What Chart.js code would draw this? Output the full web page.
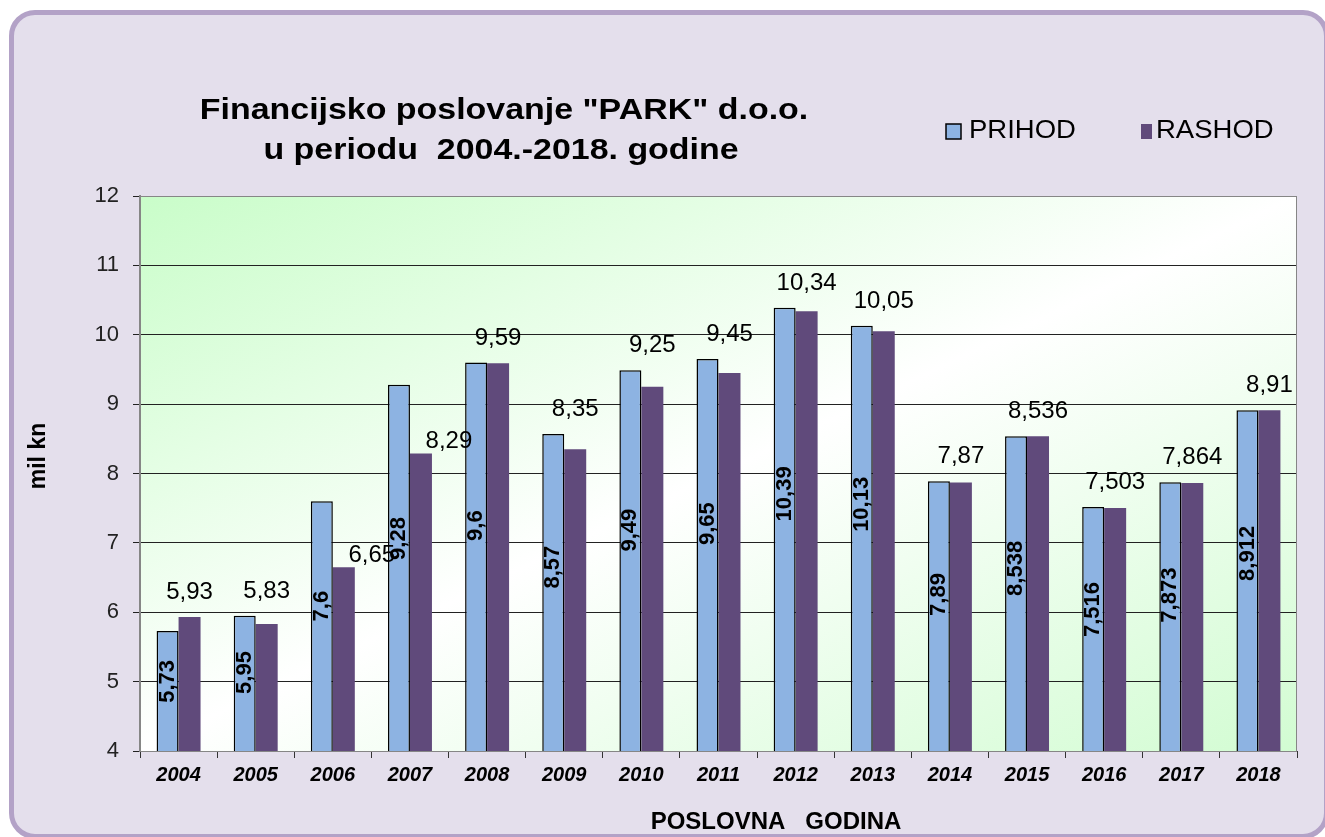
<!DOCTYPE html>
<html>
<head>
<meta charset="utf-8">
<script src="https://cdn.jsdelivr.net/npm/chart.js@4"></script>
<style>
  body { margin: 0; background: #fff; }
  #frame {
    position: absolute; left: 9px; top: 10px; width: 1320px; height: 829px;
    box-sizing: border-box; border: 5px solid #b3a2c7; border-radius: 26px; background: #e4dfec;
  }
  #chart { position: absolute; left: 0; top: 0; }
</style>
</head>
<body>
<div id="frame"></div>
<canvas id="chart" width="1325" height="837"></canvas>
<script>
const FONT = "'Liberation Sans', Arial, sans-serif";
Chart.defaults.font.family = FONT;

const years = ['2004', '2005', '2006', '2007', '2008', '2009', '2010', '2011', '2012', '2013', '2014', '2015', '2016', '2017', '2018'];
const prihod = [5.73, 5.95, 7.6, 9.28, 9.6, 8.57, 9.49, 9.65, 10.39, 10.13, 7.89, 8.538, 7.516, 7.873, 8.912];
const rashod = [5.93, 5.83, 6.65, 8.29, 9.59, 8.35, 9.25, 9.45, 10.34, 10.05, 7.87, 8.536, 7.503, 7.864, 8.91];
const yTicks = [4, 5, 6, 7, 8, 9, 10, 11, 12];
const titleLines = ['Financijsko poslovanje "PARK" d.o.o.', 'u periodu  2004.-2018. godine'];
const xTitle = 'POSLOVNA   GODINA';
const yTitle = 'mil kn';

const fmt = v => String(v).replace('.', ',');

// text drawn a bit wider than the font, like the Excel original
function wideText(ctx, text, x, y, sx, align) {
  ctx.save();
  ctx.translate(x, y);
  ctx.scale(sx, 1);
  ctx.textAlign = align || 'center';
  ctx.fillText(text, 0, 0);
  ctx.restore();
}

const decor = {
  id: 'decor',
  beforeDraw(chart) {
    const { ctx, chartArea: a } = chart;
    ctx.save();
    ctx.translate(a.left, a.top);
    ctx.scale(a.width, a.height);
    const g = ctx.createLinearGradient(0, 0, 1, 1);
    g.addColorStop(0, '#c9fdc9');
    g.addColorStop(0.5, '#ffffff');
    g.addColorStop(1, '#d2fcd2');
    ctx.fillStyle = g;
    ctx.fillRect(0, 0, 1, 1);
    ctx.restore();
  },
  afterDatasetsDraw(chart) {
    const { ctx, chartArea: a } = chart;
    const pm = chart.getDatasetMeta(0).data;
    const rm = chart.getDatasetMeta(1).data;
    ctx.save();
    ctx.fillStyle = '#000';
    ctx.font = 'bold 22px ' + FONT;
    ctx.textAlign = 'center';
    ctx.textBaseline = 'middle';
    pm.forEach((bar, i) => {
      const base = Math.min(bar.base, a.bottom);
      const cy = bar.y + 0.42 * (base - bar.y);
      ctx.save();
      ctx.translate(bar.x, cy);
      ctx.rotate(-Math.PI / 2);
      ctx.fillText(fmt(prihod[i]), 0, 0);
      ctx.restore();
    });
    ctx.font = '24px ' + FONT;
    ctx.textBaseline = 'alphabetic';
    rm.forEach((bar, i) => {
      let x = bar.x, b;
      if (prihod[i] - rashod[i] > 0.5) {
        x += 28;
        b = bar.y - 5;
      } else {
        b = Math.min(bar.y, pm[i].y) - 18;
      }
      ctx.fillText(fmt(rashod[i]), x, b);
    });
    ctx.restore();
  },
  afterDraw(chart) {
    const { ctx, chartArea: a } = chart;
    ctx.save();
    ctx.strokeStyle = '#868686';
    ctx.lineWidth = 1;
    ctx.strokeRect(a.left + 0.5, a.top + 0.5, a.width - 1, a.height);

    ctx.fillStyle = '#000';
    ctx.textBaseline = 'middle';
    ctx.font = 'bold 29px ' + FONT;
    wideText(ctx, titleLines[0], 504, 111, 1.17);
    wideText(ctx, titleLines[1], 501, 151, 1.17);

    ctx.font = 'bold 24px ' + FONT;
    wideText(ctx, xTitle, 776, 822, 1.0);

    ctx.save();
    ctx.translate(39, 456);
    ctx.rotate(-Math.PI / 2);
    ctx.font = 'bold 23px ' + FONT;
    ctx.textAlign = 'center';
    ctx.fillText(yTitle, 0, 0);
    ctx.restore();

    ctx.font = '25px ' + FONT;
    const ly = 131;
    ctx.fillStyle = '#8db3e2';
    ctx.fillRect(946, ly - 7, 15, 15);
    ctx.strokeStyle = '#000';
    ctx.lineWidth = 1.5;
    ctx.strokeRect(946, ly - 7, 15, 15);
    ctx.fillStyle = '#000';
    wideText(ctx, chart.data.datasets[0].label, 969, ly, 1.1, 'left');
    ctx.fillStyle = '#604a7b';
    ctx.fillRect(1141, ly - 7, 11, 15);
    ctx.fillStyle = '#000';
    wideText(ctx, chart.data.datasets[1].label, 1156, ly, 1.1, 'left');
    ctx.restore();
  }
};

new Chart(document.getElementById('chart'), {
  type: 'bar',
  data: {
    labels: years,
    datasets: [{
      label: 'PRIHOD',
      data: prihod,
      backgroundColor: '#8db3e2',
      borderColor: '#000',
      borderWidth: 1.5,
      categoryPercentage: 0.57,
      barPercentage: 1
    }, {
      label: 'RASHOD',
      data: rashod,
      backgroundColor: '#604a7b',
      borderWidth: 0,
      categoryPercentage: 0.57,
      barPercentage: 1
    }]
  },
  options: {
    responsive: false,
    animation: false,
    layout: { padding: { top: 196, right: 28, left: 0, bottom: 0 } },
    plugins: {
      legend: { display: false },
      title: { display: false },
      tooltip: { enabled: false }
    },
    scales: {
      x: {
        grid: { drawOnChartArea: false, drawTicks: true, tickLength: 7, color: '#333', offset: true },
        border: { color: '#333', width: 1 },
        ticks: { color: '#000', font: { size: 20, weight: 'bold', style: 'italic' }, padding: 5, maxRotation: 0 },
        afterFit(s) { s.height = 86; }
      },
      y: {
        min: 4,
        max: 12,
        afterBuildTicks(s) { s.ticks = yTicks.map(v => ({ value: v })); },
        ticks: { color: '#222', font: { size: 22 }, padding: 14 },
        grid: { color: '#222', tickLength: 7 },
        border: { color: '#868686', width: 2 },
        afterFit(s) { s.width = 140; }
      }
    }
  },
  plugins: [decor]
});
</script>
</body>
</html>
